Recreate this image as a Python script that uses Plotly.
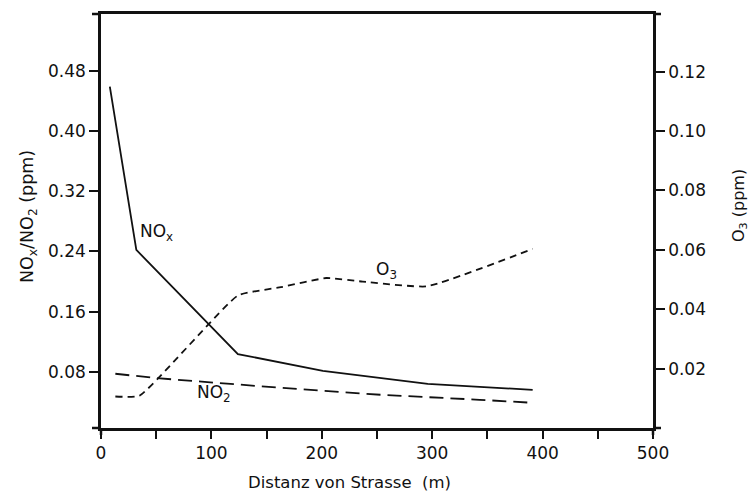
import plotly.graph_objects as go

# ---- data ----
nox_x = [8, 32, 124, 201, 296, 391]
nox_y = [0.459, 0.242, 0.1035, 0.0813, 0.064, 0.056]

no2_x = [13, 50, 162, 253, 343, 391]
no2_y = [0.0774, 0.0716, 0.0588, 0.0495, 0.0428, 0.0388]

o3_x = [13, 35, 124, 163, 204, 237, 295, 391]
o3_y = [0.0106, 0.0109, 0.0446, 0.0474, 0.0505, 0.0493, 0.0477, 0.0603]

x_tickvals = [0, 100, 200, 300, 400, 500]
x_ticktext = ["0", "100", "200", "300", "400", "500"]
yl_tickvals = [0.08, 0.16, 0.24, 0.32, 0.40, 0.48]
yl_ticktext = ["0.08", "0.16", "0.24", "0.32", "0.40", "0.48"]
yr_tickvals = [0.02, 0.04, 0.06, 0.08, 0.10, 0.12]
yr_ticktext = ["0.02", "0.04", "0.06", "0.08", "0.10", "0.12"]

INK = "#111111"
FONT = "DejaVu Sans"

fig = go.Figure()
fig.add_trace(go.Scatter(x=nox_x, y=nox_y, mode="lines",
                         line=dict(color=INK, width=1.8), yaxis="y", showlegend=False))
fig.add_trace(go.Scatter(x=no2_x, y=no2_y, mode="lines",
                         line=dict(color=INK, width=1.8, dash="14px,7px"), yaxis="y", showlegend=False))
fig.add_trace(go.Scatter(x=o3_x, y=o3_y, mode="lines", line_shape="spline",
                         line=dict(color=INK, width=1.8, dash="7px,5px", smoothing=0.4),
                         yaxis="y2", showlegend=False))

axis_common = dict(showline=True, linecolor=INK, linewidth=2.5, ticks="outside",
                   tickcolor=INK, tickwidth=2, showgrid=False, zeroline=False,
                   tickfont=dict(family=FONT, size=17, color=INK))

fig.update_layout(
    width=755, height=493,
    margin=dict(l=101, r=102, t=14, b=65),
    paper_bgcolor="white", plot_bgcolor="white",
    xaxis=dict(range=[0, 500], tickvals=x_tickvals, ticktext=x_ticktext,
               ticklen=8, mirror=True,
               minor=dict(dtick=50, ticks="outside", ticklen=8, tickwidth=2, tickcolor=INK,
                          showgrid=False),
               **axis_common),
    yaxis=dict(range=[0.0053, 0.5555], tickvals=yl_tickvals, ticktext=yl_ticktext,
               ticklen=9, **axis_common),
    yaxis2=dict(range=[0, 0.1394], tickvals=yr_tickvals, ticktext=yr_ticktext,
                ticklen=9, overlaying="y", side="right", **axis_common),
)

lab = dict(family=FONT, size=17, color=INK)
fig.add_annotation(x=50.7, y=0.265, xref="x", yref="y", text="NO<sub>x</sub>",
                   showarrow=False, font=lab)
fig.add_annotation(x=102, y=0.0517, xref="x", yref="y", text="NO<sub>2</sub>",
                   showarrow=False, font=lab)
fig.add_annotation(x=259, y=0.053, xref="x", yref="y2", text="O<sub>3</sub>",
                   showarrow=False, font=lab)

# axis titles
fig.add_annotation(x=(349 - 101) / 552, y=-55 / 414, xref="paper", yref="paper",
                   text="Distanz von Strasse  (m)", showarrow=False,
                   xanchor="center", yanchor="middle",
                   font=dict(family=FONT, size=16.5, color=INK))
fig.add_annotation(x=-72 / 552, y=(428 - 217) / 414, xref="paper", yref="paper",
                   text="NO<sub>x</sub>/NO<sub>2</sub> (ppm)", showarrow=False, textangle=-90,
                   xanchor="center", yanchor="middle",
                   font=dict(family=FONT, size=17.5, color=INK))
fig.add_annotation(x=(740 - 101) / 552, y=(428 - 206) / 414, xref="paper", yref="paper",
                   text="O<sub>3</sub> (ppm)", showarrow=False, textangle=-90,
                   xanchor="center", yanchor="middle",
                   font=dict(family=FONT, size=16, color=INK))

# corner overshoots of the frame lines
ext = dict(type="line", xref="paper", yref="paper", line=dict(color=INK, width=2.5))
fig.add_shape(xsizemode="pixel", xanchor=0, x0=-9, x1=0, y0=0, y1=0, **ext)
fig.add_shape(ysizemode="pixel", yanchor=0, y0=-7, y1=0, x0=0, x1=0, **ext)
fig.add_shape(xsizemode="pixel", xanchor=0, x0=-9, x1=0, y0=1, y1=1, **ext)
fig.add_shape(xsizemode="pixel", xanchor=1, x0=0, x1=8, y0=1, y1=1, **ext)
fig.add_shape(xsizemode="pixel", xanchor=1, x0=0, x1=8, y0=0, y1=0, **ext)
fig.add_shape(ysizemode="pixel", yanchor=0, y0=-7, y1=0, x0=1, x1=1, **ext)

fig.write_html("out.html")
